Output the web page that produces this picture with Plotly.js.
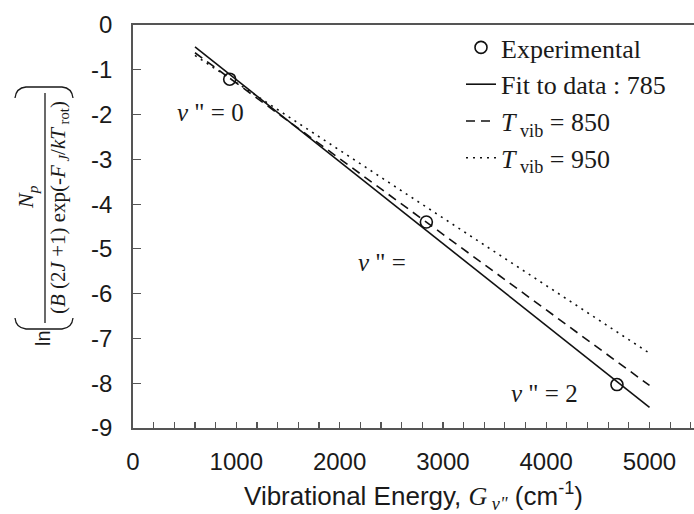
<!DOCTYPE html>
<html><head><meta charset="utf-8">
<script src="https://cdn.plot.ly/plotly-3.0.1.min.js"></script>
<style>html,body{margin:0;padding:0;background:#fff}#c{width:694px;height:514px}</style>
</head><body><div id="c"></div>
<script>
// ---- data ----
const expX = [936, 2840, 4685];
const expY = [-1.21, -4.40, -8.03];
const lineX = [600, 5000];
const fitY = [-0.49, -8.54];
const t850Y = [-0.62, -8.05];
const t950Y = [-0.68, -7.33];
const seriesNames = ['Experimental', 'Fit to data : 785',
  '<i>T</i><sub> vib</sub> = 850', '<i>T</i><sub> vib</sub> = 950'];
const levelLabels = ['<i>ν</i> " = 0', '<i>ν</i> " =', '<i>ν</i> " = 2'];
const levelX = [752, 2410, 3983];
const levelY = [-1.95, -5.3, -8.22];
const xTickVals = [0, 1000, 2000, 3000, 4000, 5000];
const yTickVals = [0, -1, -2, -3, -4, -5, -6, -7, -8, -9];

// ---- layout geometry ----
const W = 694, H = 514;
const M = {l: 133, r: 0, t: 25, b: 86};
const PW = W - M.l - M.r, PH = H - M.t - M.b;
const px = x => (x - M.l) / PW;
const py = y => (M.t + PH - y) / PH;

const SERIF = '"Liberation Serif", "Times New Roman", serif';
const SANS = '"Liberation Sans", Arial, sans-serif';
const INK = '#1a1a1a';
const AX = '#555';

const traces = [
  {x: expX, y: expY, mode: 'markers', name: seriesNames[0],
   marker: {symbol: 'circle-open', size: 12, color: '#111', line: {width: 1.6, color: '#111'}}},
  {x: lineX, y: fitY, mode: 'lines', name: seriesNames[1],
   line: {color: '#111', width: 1.6}},
  {x: lineX, y: t850Y, mode: 'lines', name: seriesNames[2],
   line: {color: '#111', width: 1.6, dash: '9px,6px'}},
  {x: lineX, y: t950Y, mode: 'lines', name: seriesNames[3],
   line: {color: '#111', width: 1.6, dash: '2px,5px'}}
];

function path(pts) {
  return pts.map((p, i) => (i === 0 ? 'M' : (p.length === 4 ? 'Q' : 'L')) +
    (p.length === 4 ? `${px(p[0])},${py(p[1])} ${px(p[2])},${py(p[3])}` : `${px(p[0])},${py(p[1])}`)).join(' ');
}

const annotations = levelLabels.map((t, i) => ({
  x: levelX[i], y: levelY[i], xref: 'x', yref: 'y', text: t, showarrow: false,
  font: {family: SERIF, size: 25, color: INK}, xanchor: 'center', yanchor: 'middle'
}));

// composite y-axis title (rotated pieces)
annotations.push(
  {x: px(43), y: py(338), xref: 'paper', yref: 'paper', text: 'ln', textangle: -90, showarrow: false,
   font: {family: SANS, size: 20, color: INK}, xanchor: 'center', yanchor: 'middle'},
  {x: px(27), y: py(197), xref: 'paper', yref: 'paper', text: '<i>N</i><sub><i>p</i></sub>', textangle: -90, showarrow: false,
   font: {family: SERIF, size: 22, color: INK}, xanchor: 'center', yanchor: 'middle'},
  {x: px(59), y: py(208), xref: 'paper', yref: 'paper',
   text: '(<i>B</i> (2<i>J</i> +1) exp(-<i>F</i><sub> <i>J</i></sub>/<i>kT</i><sub> rot</sub>)', textangle: -90, showarrow: false,
   font: {family: SERIF, size: 21, color: INK}, xanchor: 'center', yanchor: 'middle'}
);

const shapes = [
  {type: 'line', xref: 'paper', yref: 'paper', x0: px(45), x1: px(45), y0: py(93), y1: py(323),
   line: {color: INK, width: 1.3}},
  {type: 'path', xref: 'paper', yref: 'paper',
   path: path([[15, 318], [16, 328, 26, 329], [62, 329], [72, 328, 73, 318]]),
   line: {color: INK, width: 1.3}},
  {type: 'path', xref: 'paper', yref: 'paper',
   path: path([[15, 98], [16, 88, 26, 87], [62, 87], [72, 88, 73, 98]]),
   line: {color: INK, width: 1.3}}
];

const layout = {
  width: W, height: H, margin: M,
  paper_bgcolor: '#fff', plot_bgcolor: '#fff',
  showlegend: true,
  legend: {x: px(461), y: py(24), xanchor: 'left', yanchor: 'top',
    font: {family: SERIF, size: 26, color: INK}, bgcolor: 'rgba(0,0,0,0)',
    tracegroupgap: 0, itemwidth: 30},
  xaxis: {
    range: [0, PW / 103.3 * 1000], tickvals: xTickVals, ticktext: xTickVals.map(String),
    ticks: 'inside', ticklen: 6, tickwidth: 1.2, tickcolor: AX,
    minor: {tickvals: Array.from({length: 28}, (_, i) => i * 200), ticks: 'inside', ticklen: 6, tickwidth: 1.2, tickcolor: AX},
    showline: true, linecolor: AX, linewidth: 1.8, mirror: true,
    showgrid: false, zeroline: false, ticklabelstandoff: 11,
    tickfont: {family: SANS, size: 24, color: INK},
    title: {text: 'Vibrational Energy, <span style="font-family:Liberation Serif"><i>G</i><sub> <i>v"</i></sub></span> (cm<sup>-1</sup>)',
      font: {family: SANS, size: 26, color: INK}, standoff: 15}
  },
  yaxis: {
    range: [-9, 0], tickvals: yTickVals, ticktext: yTickVals.map(String),
    ticks: 'inside', ticklen: 8, tickwidth: 1.2, tickcolor: AX,
    showline: true, linecolor: AX, linewidth: 1.8, mirror: false,
    showgrid: false, zeroline: false, ticklabelstandoff: 14,
    tickfont: {family: SANS, size: 24, color: INK}
  },
  annotations: annotations, shapes: shapes
};

Plotly.newPlot('c', traces, layout, {displayModeBar: false, staticPlot: true});
</script></body></html>
